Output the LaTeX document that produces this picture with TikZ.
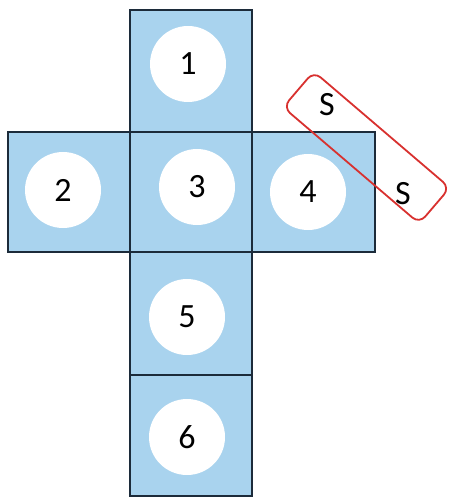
\documentclass[tikz,border=0pt]{standalone}
\usepackage{fontspec}
\setmainfont{Carlito}
\definecolor{facefill}{HTML}{A9D3EE}
\definecolor{edgecol}{HTML}{1C2B3A}
\definecolor{markred}{HTML}{D8312F}
\begin{document}
\begin{tikzpicture}[x=1pt,y=-1pt,
  face/.style={draw=edgecol,line width=1.8pt,fill=facefill},
  spot/.style={circle,fill=white,minimum size=76pt,inner sep=0pt,font=\fontsize{34}{34}\selectfont},
  slabel/.style={font=\fontsize{34}{34}\selectfont,inner sep=0pt},
  ring/.style={draw=markred,line width=1.8pt,rounded corners=9pt}]
\useasboundingbox (0,0) rectangle (450,497);
% faces
\draw[face] (130,10) rectangle (252,132);
\draw[face] (8,132) rectangle (130,252);
\draw[face] (252,132) rectangle (375,252);
\draw[face] (130,252) rectangle (252,375);
\draw[face] (130,375) rectangle (252,496);
\draw[face] (130,132) rectangle (252,252);
% spots
\node[spot] (n1) at (188,64) {1};
\node[spot] (n2) at (63,190) {2};
\node[spot] (n3) at (197,187) {3};
\node[spot] (n4) at (308,192) {4};
\node[spot] (n5) at (187,317) {5};
\node[spot] (n6) at (187,437) {6};
% red marker
\draw[ring,rotate around={-40.5:(366.5,147.5)}] (277,124) rectangle (456,171);
\node[slabel] (s1) at (327,105) {S};
\node[slabel] (s2) at (403,194) {S};
\end{tikzpicture}
\end{document}
